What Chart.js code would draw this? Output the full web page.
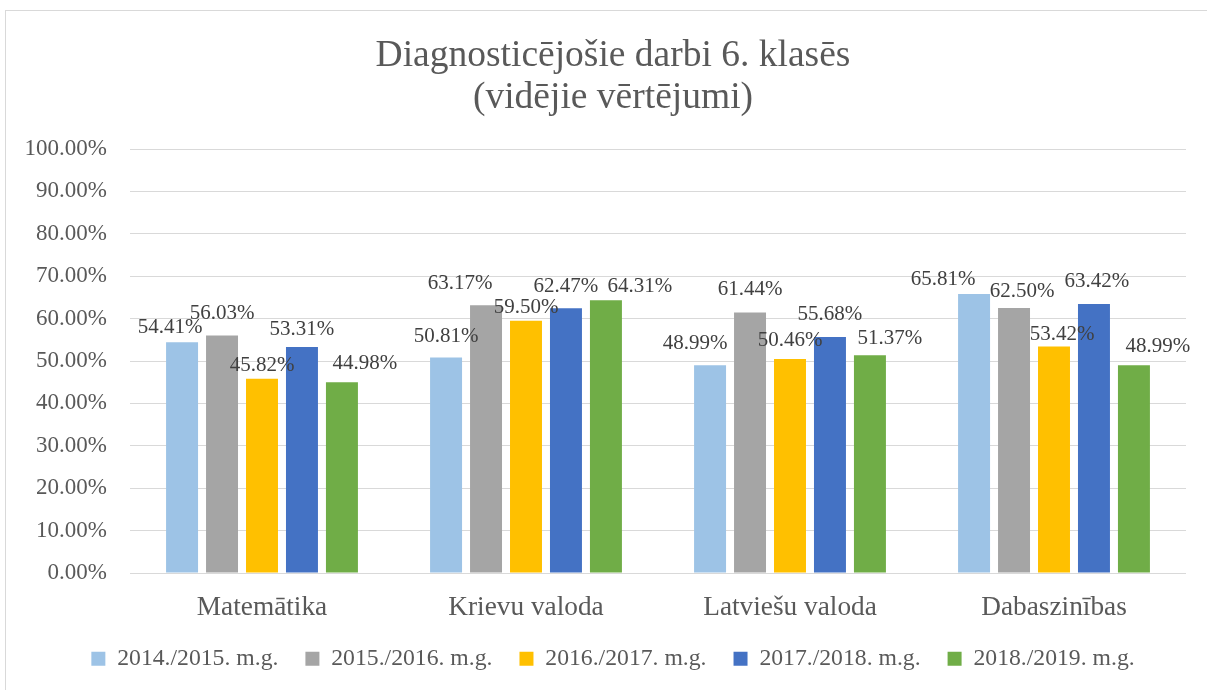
<!DOCTYPE html>
<html lang="lv">
<head>
    <meta charset="UTF-8">
    <title>Diagnosticējošie darbi 6. klasēs</title>
    <script src="https://cdn.jsdelivr.net/npm/chart.js"></script>
    <style>
    body {
        margin: 0;
        background: #ffffff;
        overflow: hidden;
    }
    #frame {
        position: absolute;
        left: 5px;
        top: 10px;
        width: 1300px;
        height: 800px;
        border: 1px solid #d9d9d9;
    }
    #chart {
        position: absolute;
        left: 0;
        top: 0;
    }
    </style>
</head>
<body>
    <div id="frame"></div>
    <canvas id="chart" width="1207" height="690"></canvas>

    <script>
        // dati
        const categories = ['Matemātika', 'Krievu valoda', 'Latviešu valoda', 'Dabaszinības'];
        const seriesNames = ['2014./2015. m.g.', '2015./2016. m.g.', '2016./2017. m.g.', '2017./2018. m.g.', '2018./2019. m.g.'];
        const y2015 = [54.41, 50.81, 48.99, 65.81];
        const y2016 = [56.03, 63.17, 61.44, 62.50];
        const y2017 = [45.82, 59.50, 50.46, 53.42];
        const y2018 = [53.31, 62.47, 55.68, 63.42];
        const y2019 = [44.98, 64.31, 51.37, 48.99];
        const yTicks = [0, 10, 20, 30, 40, 50, 60, 70, 80, 90, 100];

        const colors = ['#9dc3e6', '#a5a5a5', '#ffc000', '#4472c4', '#70ad47'];
        const font = '"Liberation Serif", "Times New Roman", serif';

        // etiķešu nobīdes (oriģinālā tās pārvietotas ar roku)
        const labelDx = [
            [-12, 0, -15, -31],
            [0, -26, 0, 8],
            [0, 0, 0, 8],
            [0, 0, 0, 3],
            [23, 34, 20, 24]
        ];
        const labelGap = [
            [9, 16, 16, 9],
            [16, 16, 17, 11],
            [8, 8, 13, 6],
            [12, 16, 17, 17],
            [13, 8, 11, 13]
        ];

        const barLabels = {
            id: 'barLabels',
            afterDatasetsDraw(chart) {
                const ctx = chart.ctx;
                ctx.save();
                ctx.font = '21px ' + font;
                ctx.fillStyle = '#404040';
                ctx.textAlign = 'center';
                ctx.textBaseline = 'alphabetic';
                chart.data.datasets.forEach((ds, i) => {
                    chart.getDatasetMeta(i).data.forEach((bar, j) => {
                        const txt = ds.data[j].toFixed(2) + '%';
                        ctx.fillText(txt, bar.x + labelDx[i][j], bar.y - labelGap[i][j]);
                    });
                });
                ctx.restore();
            }
        };

        const allSeries = [y2015, y2016, y2017, y2018, y2019];

        const chart = new Chart(document.getElementById('chart'), {
            type: 'bar',
            data: {
                labels: categories,
                datasets: allSeries.map((vals, i) => ({
                    label: seriesNames[i],
                    data: vals,
                    backgroundColor: colors[i],
                    categoryPercentage: 0.757,
                    barPercentage: 0.8
                }))
            },
            options: {
                responsive: false,
                animation: false,
                layout: {
                    padding: { left: 20, right: 1, top: 10, bottom: 9.3 }
                },
                plugins: {
                    title: {
                        display: true,
                        text: ['Diagnosticējošie darbi 6. klasēs', '(vidējie vērtējumi)'],
                        color: '#595959',
                        font: { family: font, size: 37.5, weight: 'normal', lineHeight: 1.1 },
                        padding: { top: 26, bottom: 30.5 }
                    },
                    legend: {
                        position: 'bottom',
                        labels: {
                            boxWidth: 14,
                            boxHeight: 14,
                            padding: 27,
                            color: '#595959',
                            font: { family: font, size: 23.7 }
                        }
                    },
                    tooltip: { enabled: false }
                },
                scales: {
                    x: {
                        grid: { display: false, drawTicks: false },
                        border: { display: false },
                        ticks: {
                            color: '#595959',
                            font: { family: font, size: 27.3 },
                            padding: 18
                        },
                        afterFit(scale) {
                            scale.height = 47;
                        }
                    },
                    y: {
                        min: 0,
                        max: 100,
                        afterBuildTicks(scale) {
                            scale.ticks = yTicks.map(v => ({ value: v }));
                        },
                        grid: { color: '#d9d9d9', drawTicks: false },
                        border: { display: false },
                        ticks: {
                            color: '#595959',
                            font: { family: font, size: 23 },
                            padding: 23,
                            callback: v => v.toFixed(2) + '%'
                        },
                        afterFit(scale) {
                            scale.width = 110;
                        }
                    },
                    // tukša ass labajā pusē, lai virsraksts un leģenda būtu centrēti kā oriģinālā
                    yRight: {
                        position: 'right',
                        grid: { display: false, drawTicks: false },
                        border: { display: false },
                        ticks: { display: false },
                        afterFit(scale) {
                            scale.width = 20;
                        }
                    }
                }
            },
            plugins: [barLabels]
        });
    </script>
</body>
</html>
